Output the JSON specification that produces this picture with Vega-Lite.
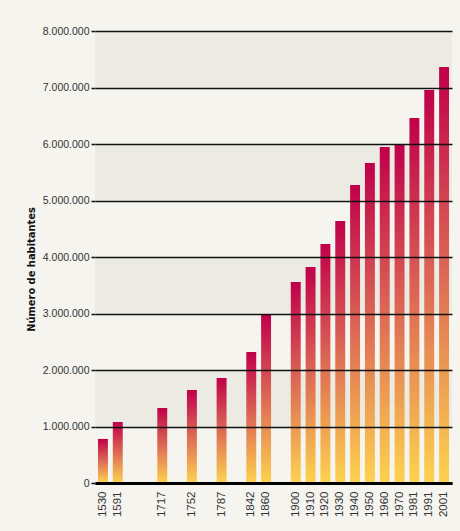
{
  "$schema": "https://vega.github.io/schema/vega-lite/v6.json",
  "width": 357,
  "height": 452,
  "autosize": {"type": "none"},
  "padding": {"left": 95, "top": 31, "right": 8, "bottom": 48},
  "background": "#f5f4ee",
  "config": {
    "view": {"stroke": null, "fill": "#f5f4ee"},
    "locale": {"number": {"decimal": ",", "thousands": ".", "grouping": [3], "currency": ["", " €"]}},
    "font": "Liberation Sans"
  },
  "layer": [
    {
      "data": {"values": [
        {"lo": 1000000, "hi": 2000000},
        {"lo": 3000000, "hi": 4000000},
        {"lo": 5000000, "hi": 6000000},
        {"lo": 7000000, "hi": 8000000}
      ]},
      "mark": {"type": "rect", "fill": "#ebeae3"},
      "encoding": {
        "y": {"field": "lo", "type": "quantitative", "scale": {"domain": [0, 8000000], "nice": false}},
        "y2": {"field": "hi"}
      }
    },
    {
      "data": {"values": [
        {"year": "1530", "pop": 780000},
        {"year": "1591", "pop": 1080000},
        {"year": "1717", "pop": 1327000},
        {"year": "1752", "pop": 1646000},
        {"year": "1787", "pop": 1858000},
        {"year": "1842", "pop": 2318000},
        {"year": "1860", "pop": 2973000},
        {"year": "1900", "pop": 3557000},
        {"year": "1910", "pop": 3823000},
        {"year": "1920", "pop": 4230000},
        {"year": "1930", "pop": 4637000},
        {"year": "1940", "pop": 5274000},
        {"year": "1950", "pop": 5664000},
        {"year": "1960", "pop": 5947000},
        {"year": "1970", "pop": 5982000},
        {"year": "1981", "pop": 6460000},
        {"year": "1991", "pop": 6956000},
        {"year": "2001", "pop": 7363000}
      ]},
      "mark": {
        "type": "bar",
        "color": {
          "gradient": "linear",
          "x1": 0, "y1": 0, "x2": 0, "y2": 1,
          "stops": [
            {"offset": 0, "color": "#c0004a"},
            {"offset": 0.5, "color": "#dd6a55"},
            {"offset": 1, "color": "#fdd34e"}
          ]
        }
      },
      "encoding": {
        "x": {
          "field": "year",
          "type": "ordinal",
          "scale": {
            "domain": ["1530", "1591", "_a", "_b", "1717", "_c", "1752", "_d", "1787", "_e", "1842", "1860", "_f", "1900", "1910", "1920", "1930", "1940", "1950", "1960", "1970", "1981", "1991", "2001"],
            "paddingInner": 0.33,
            "paddingOuter": 0.2
          },
          "axis": {
            "title": null,
            "labelAngle": 270,
            "labelExpr": "indexof(datum.label, '_') === 0 ? '' : datum.label",
            "labelFontSize": 11.5,
            "labelColor": "#333333",
            "labelPadding": 8,
            "ticks": false,
            "domainColor": "#000000",
            "domainWidth": 3,
            "zindex": 1
          }
        },
        "y": {
          "field": "pop",
          "type": "quantitative",
          "scale": {"domain": [0, 8000000], "nice": false},
          "axis": {
            "title": "Número de habitantes",
            "titleFont": "DejaVu Sans Condensed, Liberation Sans",
            "titleFontWeight": "bold",
            "titleFontSize": 11,
            "titleColor": "#111111",
            "titlePadding": 6,
            "titleY": 238,
            "values": [0, 1000000, 2000000, 3000000, 4000000, 5000000, 6000000, 7000000, 8000000],
            "format": ",d",
            "labelFontSize": 10.5,
            "labelColor": "#333333",
            "labelPadding": 2,
            "tickSize": 4,
            "tickColor": "#111111",
            "tickWidth": 1.5,
            "domain": false,
            "grid": true,
            "gridColor": "#111111",
            "gridWidth": 1.5,
            "gridOpacity": 1,
            "zindex": 1
          }
        }
      }
    }
  ]
}
